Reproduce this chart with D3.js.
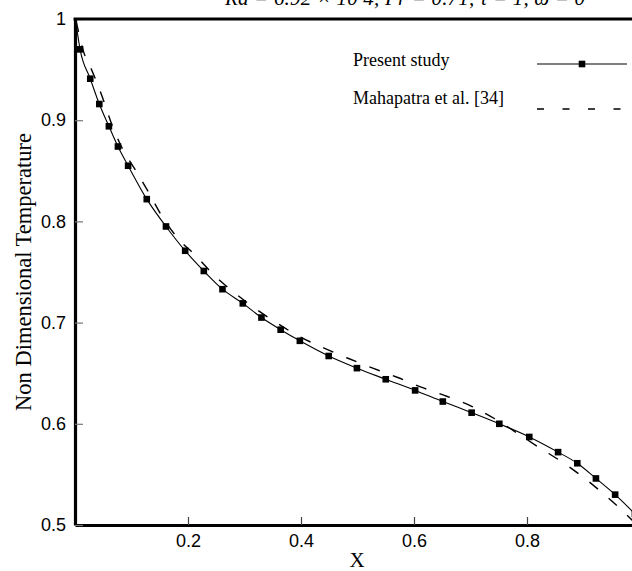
<!DOCTYPE html>
<html>
<head>
<meta charset="utf-8">
<script src="https://cdn.jsdelivr.net/npm/d3@7"></script>
<style>
  body { margin: 0; background: #fff; }
  svg { display: block; }
</style>
</head>
<body>
<div id="chart"></div>
<script>
// values
const presentX = [0.002, 0.009, 0.027, 0.043, 0.060, 0.076, 0.094, 0.127, 0.161, 0.195, 0.228, 0.261, 0.297, 0.330, 0.364, 0.398, 0.449, 0.499, 0.550, 0.602, 0.651, 0.702, 0.751, 0.804, 0.855, 0.889, 0.922, 0.956, 0.991]
const presentY = [0.995, 0.970, 0.941, 0.916, 0.894, 0.874, 0.855, 0.822, 0.795, 0.771, 0.751, 0.733, 0.719, 0.705, 0.693, 0.682, 0.667, 0.655, 0.644, 0.633, 0.622, 0.611, 0.600, 0.587, 0.572, 0.561, 0.546, 0.530, 0.511]

const mahaX = [0.002, 0.015, 0.030, 0.049, 0.065, 0.083, 0.109, 0.130, 0.153, 0.181, 0.212, 0.246, 0.281, 0.319, 0.356, 0.398, 0.440, 0.482, 0.527, 0.570, 0.614, 0.659, 0.703, 0.743, 0.782, 0.823, 0.863, 0.900, 0.937, 0.973, 1.0]
const mahaY = [0.998, 0.968, 0.949, 0.922, 0.896, 0.873, 0.849, 0.829, 0.806, 0.784, 0.767, 0.747, 0.730, 0.714, 0.700, 0.686, 0.675, 0.665, 0.655, 0.646, 0.636, 0.627, 0.617, 0.605, 0.591, 0.576, 0.562, 0.547, 0.530, 0.512, 0.497]

const xTicks = [0.2, 0.4, 0.6, 0.8]
const yTicks = [0.5, 0.6, 0.7, 0.8, 0.9, 1]
const legendLabels = ["Present study", "Mahapatra et al. [34]"]

const width = 632, height = 571
const margin = {top: 19, left: 75, bottom: 46}

const x = d3.scaleLinear().domain([0, 1]).range([margin.left, 640])
const y = d3.scaleLinear().domain([0.5, 1]).range([height - margin.bottom, margin.top])

const svg = d3.select("#chart").append("svg")
  .attr("width", width)
  .attr("height", height)

const present = presentX.map((v, i) => ({x: v, y: presentY[i]}))
const maha = mahaX.map((v, i) => ({x: v, y: mahaY[i]}))

// title, only its lower half is on the page
svg.append("text")
  .attr("x", 225)
  .attr("y", 5)
  .attr("font-family", "Liberation Serif")
  .attr("font-style", "italic")
  .attr("font-size", 21)
  .attr("textLength", 360)
  .attr("lengthAdjust", "spacing")
  .text("Ra  = 6.92 × 10 4, Pr  = 0.71, τ  = 1, ω  = 0")

const plot = svg.append("g")

// curves
const line = d3.line().x(d => x(d.x)).y(d => y(d.y)).curve(d3.curveMonotoneX)

plot.append("path")
  .datum(maha)
  .attr("fill", "none")
  .attr("stroke", "#000")
  .attr("stroke-width", 1.4)
  .attr("stroke-dasharray", "11,14")
  .attr("d", line)

plot.append("path")
  .datum(present)
  .attr("fill", "none")
  .attr("stroke", "#000")
  .attr("stroke-width", 1.1)
  .attr("d", line)

plot.selectAll("rect.mk")
  .data(present.slice(1))
  .join("rect")
  .attr("class", "mk")
  .attr("x", d => x(d.x) - 3.3)
  .attr("y", d => y(d.y) - 3.3)
  .attr("width", 6.6)
  .attr("height", 6.6)
  .attr("fill", "#000")

// axes
const xAxis = g => g
  .attr("transform", `translate(0,${y(0.5)})`)
  .call(d3.axisBottom(x).tickValues(xTicks).tickFormat(d3.format(".1f")).tickSizeInner(-8).tickSizeOuter(0).tickPadding(9))
  .call(g => g.select(".domain").attr("stroke-width", 3.2))
  .call(g => g.selectAll(".tick line").attr("stroke", "#444").attr("stroke-width", 1.2))
  .call(g => g.selectAll("text").attr("font-family", "Liberation Sans").attr("font-size", 18).attr("fill", "#000"))

const yAxis = g => g
  .attr("transform", `translate(${x(0)},0)`)
  .call(d3.axisLeft(y).tickValues(yTicks).tickFormat(d => d === 1 ? "1" : d3.format(".1f")(d)).tickSizeInner(-8).tickSizeOuter(0).tickPadding(9))
  .call(g => g.select(".domain").attr("stroke-width", 3.2))
  .call(g => g.selectAll(".tick line").attr("stroke", "#777").attr("stroke-width", 1.2))
  .call(g => g.selectAll("text").attr("font-family", "Liberation Sans").attr("font-size", 18).attr("fill", "#000"))

svg.append("g").call(xAxis)
svg.append("g").call(yAxis)

// top frame
svg.append("line")
  .attr("x1", x(0) - 1.5).attr("x2", width)
  .attr("y1", y(1)).attr("y2", y(1))
  .attr("stroke", "#000")
  .attr("stroke-width", 3.2)

// axis titles
svg.append("text")
  .attr("x", 357)
  .attr("y", 567)
  .attr("text-anchor", "middle")
  .attr("font-family", "Liberation Serif")
  .attr("font-size", 21)
  .text("X")

svg.append("text")
  .attr("transform", `translate(31,${(y(0.5) + y(1)) / 2}) rotate(-90)`)
  .attr("text-anchor", "middle")
  .attr("font-family", "Liberation Serif")
  .attr("font-size", 22.5)
  .text("Non Dimensional Temperature")

// legend
const legend = svg.append("g")
legend.selectAll("text")
  .data(legendLabels)
  .join("text")
  .attr("x", 353)
  .attr("y", (d, i) => 66 + i * 38)
  .attr("font-family", "Liberation Serif")
  .attr("font-size", 18)
  .text(d => d)

legend.append("line")
  .attr("x1", 537).attr("x2", 627)
  .attr("y1", 64).attr("y2", 64)
  .attr("stroke", "#000").attr("stroke-width", 1.1)
legend.append("rect")
  .attr("x", 582 - 3.3).attr("y", 64 - 3.3)
  .attr("width", 6.6).attr("height", 6.6)
  .attr("fill", "#000")
legend.append("line")
  .attr("x1", 537).attr("x2", 627)
  .attr("y1", 109).attr("y2", 109)
  .attr("stroke", "#000").attr("stroke-width", 1.4)
  .attr("stroke-dasharray", "7,18.5")
</script>
</body>
</html>
